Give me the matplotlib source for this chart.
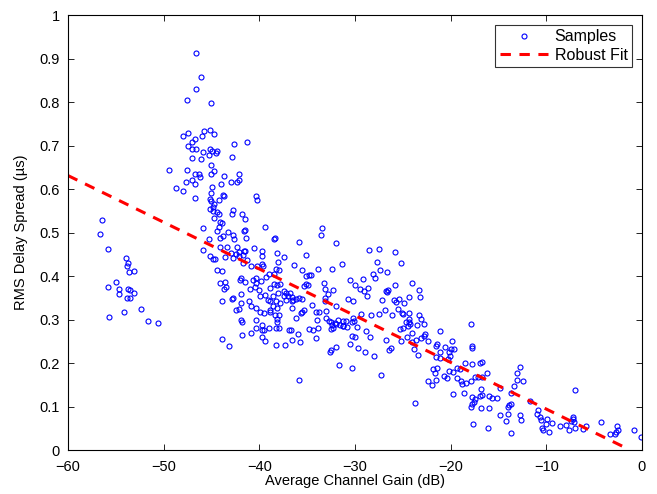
import matplotlib
matplotlib.use("Agg")
import matplotlib.pyplot as plt

# --- data ----------------------------------------------------------------
gain_db = [
    -47.6, -48.0, -47.5, -47.5, -49.4, -47.6, -47.7, -48.7, -48.0,
    -56.4, -56.7, -55.8, -53.9, -53.7, -53.8, -53.1, -53.6, -55.0, -55.8,
    -54.7, -53.7, -53.5, -53.1, -54.7, -53.8, -53.5, -52.4, -54.1, -55.7,
    -51.6, -50.6,
    -46.6, -46.1, -46.6, -45.0, -45.8, -45.2, -44.7, -46.0, -46.7, -47.0,
    -42.6, -41.3, -47.0, -46.6, -45.9, -45.2, -44.9, -44.4, -44.5, -45.3,
    -42.9, -47.0, -46.1, -45.1, -44.7, -46.7, -46.3, -46.2, -45.1, -43.7,
    -42.1, -47.0, -46.7, -44.9, -44.0, -43.0, -42.3, -42.1, -45.1, -43.8,
    -43.7, -40.3, -40.2, -46.7, -45.2, -45.1, -44.2, -44.7, -44.8, -45.2,
    -44.8, -44.4, -44.2, -42.7, -42.9, -41.8, -41.5, -44.7, -44.1, -43.9,
    -45.9, -44.2, -44.4, -43.3, -39.4, -41.5, -41.6, -42.7, -42.6, -41.4,
    -43.8, -44.1, -45.3, -38.4, -38.5, -44.1, -43.4, -42.3, -41.6, -40.6,
    -39.7, -45.9,
    -45.2, -44.8, -44.6, -43.6, -43.0, -42.7, -42.4, -42.1, -42.1, -41.7,
    -41.5, -41.3, -40.9, -39.7, -38.1, -37.4, -41.7, -40.2, -39.7, -39.6,
    -38.0, -38.3, -37.9, -38.5, -39.0, -39.3, -44.4, -43.9, -41.9, -42.0,
    -41.5, -40.7, -40.3, -39.8, -40.3, -43.6, -44.1, -43.5, -43.7, -41.0,
    -40.5, -40.0, -38.9, -38.5, -38.1, -37.8, -37.4, -37.2, -37.0, -38.0,
    -38.6, -39.4, -39.9, -41.9, -42.8, -42.9, -43.9, -41.9, -41.1, -39.1,
    -38.9, -38.3, -37.4, -37.2, -40.9, -38.6, -37.8, -38.1, -40.3, -39.9,
    -39.5, -38.9, -38.9, -42.1, -42.4, -38.4, -37.9, -38.1, -38.2, -40.3,
    -41.9, -41.8, -39.7, -39.7, -39.5, -39.0, -40.3, -40.9, -41.8, -38.3,
    -37.9, -36.9, -39.7, -39.4, -43.9, -43.2, -38.3, -37.3,
    -33.4, -33.6, -35.8, -32.0, -27.5, -28.5, -35.1,
    -36.4, -35.5, -33.9, -32.4, -31.4, -27.7, -27.4, -26.6, -28.1, -27.9,
    -29.2, -30.5, -30.0, -29.5, -29.1, -28.6, -26.8, -26.5, -26.7, -28.7,
    -27.2, -33.2, -33.1, -32.3, -32.8, -35.1, -34.8, -34.6, -35.1, -34.9,
    -35.3, -36.8, -36.6, -36.5, -36.2, -35.8, -35.5, -36.6, -34.5, -33.1,
    -33.1, -30.7, -30.2, -32.0, -36.6, -35.3, -35.5, -35.6, -34.1, -33.8,
    -33.0, -36.2, -34.0, -33.0, -32.7, -32.5, -32.1, -31.8, -31.2, -30.9,
    -30.2, -30.1, -30.3, -29.4, -28.3, -27.5, -26.9, -32.4, -32.0, -31.6,
    -31.3, -31.2, -30.8, -29.8, -32.3, -32.5, -34.8, -34.4, -33.9, -36.7,
    -36.0, -28.8, -30.3, -30.0, -28.4, -34.1, -36.6, -35.7, -30.5, -26.8,
    -32.0, -32.5, -32.6, -29.7, -29.0, -28.0, -26.4, -31.7, -30.3, -27.3,
    -35.9,
    -25.8, -25.2, -25.8, -24.0, -23.3, -23.2, -24.4, -25.9, -25.4, -25.7,
    -24.9, -25.5, -25.1, -25.0, -24.4, -26.1, -23.3, -23.1, -24.3, -24.7,
    -24.4, -24.2, -24.5, -23.5, -22.8, -17.9, -25.0, -25.3, -24.0, -22.7,
    -22.8, -21.1, -24.6, -23.1, -23.6, -24.0, -22.4, -19.9, -25.2, -21.4,
    -21.5, -20.6, -17.8, -17.8, -23.8, -20.0, -19.6, -26.2,
    -23.4, -21.1, -20.2, -21.5, -21.1, -20.1, -20.3, -18.5, -17.8, -16.9,
    -16.7, -21.8, -21.4, -21.6, -20.2, -19.8, -19.3, -19.0, -16.2, -20.7,
    -20.4, -19.3, -18.9, -18.8, -18.4, -17.9, -17.5, -17.1, -16.7, -22.4,
    -21.5, -21.9, -16.8, -19.7, -18.6, -17.8, -16.9, -16.7, -16.0, -17.5,
    -17.6, -17.8, -17.9, -16.8, -16.0, -23.7, -17.7, -16.1,
    -12.7, -13.1, -13.1, -12.4, -13.4, -14.8, -15.7, -15.1, -13.7, -7.0,
    -13.9, -13.7, -14.0, -11.7, -10.9, -11.0, -14.8, -14.0, -12.7, -12.6,
    -14.2, -10.7, -10.5, -9.9, -10.0, -9.4, -10.4, -10.3, -9.7, -13.7,
    -8.6, -7.9, -7.6, -7.2, -7.2, -7.0, -6.2, -5.8, -7.1, -7.4,
    -4.3, -3.3, -2.8, -2.7, -2.5, -2.6, -0.8, -0.1,
]

delay_us = [
    0.804, 0.722, 0.729, 0.699, 0.644, 0.644, 0.617, 0.602, 0.595,
    0.530, 0.496, 0.463, 0.441, 0.429, 0.424, 0.412, 0.410, 0.387, 0.374,
    0.370, 0.370, 0.368, 0.362, 0.358, 0.350, 0.349, 0.324, 0.317, 0.306,
    0.296, 0.292,
    0.912, 0.857, 0.830, 0.798, 0.734, 0.735, 0.726, 0.723, 0.715, 0.709,
    0.704, 0.708, 0.692, 0.691, 0.685, 0.692, 0.688, 0.687, 0.682, 0.678,
    0.674, 0.671, 0.669, 0.656, 0.642, 0.634, 0.634, 0.628, 0.634, 0.631,
    0.634, 0.621, 0.611, 0.605, 0.611, 0.617, 0.617, 0.621, 0.592, 0.586,
    0.585, 0.583, 0.574, 0.580, 0.576, 0.572, 0.575, 0.566, 0.559, 0.555,
    0.549, 0.548, 0.542, 0.552, 0.542, 0.542, 0.531, 0.533, 0.524, 0.521,
    0.511, 0.512, 0.504, 0.502, 0.513, 0.506, 0.503, 0.495, 0.485, 0.488,
    0.492, 0.488, 0.485, 0.488, 0.486, 0.467, 0.467, 0.467, 0.458, 0.464,
    0.458, 0.460,
    0.445, 0.440, 0.439, 0.444, 0.454, 0.442, 0.450, 0.445, 0.456, 0.448,
    0.457, 0.437, 0.424, 0.446, 0.454, 0.443, 0.431, 0.424, 0.428, 0.422,
    0.432, 0.416, 0.414, 0.405, 0.404, 0.398, 0.414, 0.411, 0.396, 0.391,
    0.387, 0.391, 0.395, 0.388, 0.385, 0.386, 0.383, 0.374, 0.371, 0.371,
    0.375, 0.367, 0.372, 0.381, 0.379, 0.381, 0.366, 0.360, 0.355, 0.360,
    0.354, 0.356, 0.354, 0.359, 0.349, 0.347, 0.343, 0.339, 0.343, 0.345,
    0.342, 0.343, 0.355, 0.346, 0.330, 0.331, 0.337, 0.326, 0.326, 0.317,
    0.315, 0.321, 0.317, 0.324, 0.323, 0.311, 0.310, 0.302, 0.294, 0.300,
    0.299, 0.294, 0.288, 0.277, 0.277, 0.280, 0.280, 0.270, 0.265, 0.280,
    0.280, 0.277, 0.260, 0.251, 0.256, 0.240, 0.242, 0.242,
    0.511, 0.495, 0.479, 0.477, 0.463, 0.461, 0.448,
    0.425, 0.414, 0.416, 0.416, 0.427, 0.432, 0.414, 0.409, 0.404, 0.395,
    0.394, 0.391, 0.380, 0.370, 0.366, 0.373, 0.366, 0.369, 0.363, 0.353,
    0.344, 0.385, 0.370, 0.369, 0.359, 0.401, 0.403, 0.403, 0.381, 0.380,
    0.377, 0.362, 0.352, 0.345, 0.348, 0.349, 0.347, 0.343, 0.334, 0.350,
    0.342, 0.347, 0.343, 0.330, 0.327, 0.322, 0.317, 0.314, 0.317, 0.317,
    0.320, 0.303, 0.299, 0.303, 0.297, 0.294, 0.293, 0.300, 0.297, 0.297,
    0.303, 0.297, 0.294, 0.312, 0.311, 0.313, 0.323, 0.287, 0.290, 0.287,
    0.286, 0.285, 0.283, 0.284, 0.281, 0.278, 0.279, 0.276, 0.280, 0.277,
    0.267, 0.274, 0.263, 0.259, 0.260, 0.257, 0.252, 0.248, 0.244, 0.254,
    0.236, 0.231, 0.226, 0.234, 0.226, 0.217, 0.231, 0.196, 0.189, 0.172,
    0.160,
    0.455, 0.430, 0.380, 0.383, 0.369, 0.352, 0.352, 0.346, 0.347, 0.340,
    0.339, 0.325, 0.316, 0.313, 0.316, 0.310, 0.310, 0.302, 0.302, 0.294,
    0.294, 0.289, 0.286, 0.287, 0.290, 0.290, 0.280, 0.278, 0.270, 0.267,
    0.263, 0.273, 0.260, 0.258, 0.254, 0.249, 0.250, 0.250, 0.251, 0.244,
    0.239, 0.237, 0.240, 0.235, 0.233, 0.233, 0.233, 0.234,
    0.218, 0.225, 0.225, 0.214, 0.211, 0.216, 0.209, 0.199, 0.198, 0.199,
    0.203, 0.186, 0.189, 0.177, 0.182, 0.180, 0.188, 0.186, 0.178, 0.170,
    0.166, 0.165, 0.159, 0.151, 0.153, 0.159, 0.169, 0.167, 0.168, 0.159,
    0.161, 0.149, 0.140, 0.129, 0.130, 0.123, 0.125, 0.126, 0.125, 0.117,
    0.110, 0.106, 0.098, 0.097, 0.096, 0.107, 0.060, 0.051,
    0.191, 0.177, 0.162, 0.159, 0.148, 0.142, 0.120, 0.120, 0.132, 0.137,
    0.103, 0.106, 0.100, 0.113, 0.092, 0.083, 0.081, 0.082, 0.080, 0.070,
    0.067, 0.075, 0.069, 0.071, 0.061, 0.062, 0.051, 0.046, 0.042, 0.040,
    0.055, 0.057, 0.047, 0.075, 0.071, 0.050, 0.048, 0.055, 0.064, 0.067,
    0.064, 0.037, 0.037, 0.042, 0.047, 0.055, 0.046, 0.029,
]

# robust fit line end points
fit_x = [-60.0, -1.5]
fit_y = [0.631, 0.003]

x_ticks = [-60, -50, -40, -30, -20, -10, 0]
y_ticks = [0, 0.1, 0.2, 0.3, 0.4, 0.5, 0.6, 0.7, 0.8, 0.9, 1]
y_tick_labels = ["0", "0.1", "0.2", "0.3", "0.4", "0.5", "0.6", "0.7", "0.8", "0.9", "1"]

plt.rcParams["font.family"] = ["Liberation Sans", "DejaVu Sans"]

fig = plt.figure(figsize=(6.57, 4.94), dpi=100, facecolor="white")
ax = fig.add_axes([0.1035, 0.089, 0.8735, 0.8805])

ax.plot(gain_db, delay_us, linestyle="none", marker="o", markersize=3.6,
        markerfacecolor="none", markeredgecolor="#0000FF", markeredgewidth=0.8,
        label="Samples")
ax.plot(fit_x, fit_y, color="#FF0000", linewidth=2.2, linestyle=(0, (3.4, 2.8)),
        label="Robust Fit")

ax.set_xlim(-60, 0)
ax.set_ylim(0, 1)
ax.set_xticks(x_ticks)
ax.set_yticks(y_ticks)
ax.set_yticklabels(y_tick_labels)
ax.tick_params(direction="in", top=True, right=True, length=4, width=0.6,
               labelsize=10.5, colors="black")
ax.tick_params(axis="x", pad=7)
ax.tick_params(axis="y", pad=6)
for s in ax.spines.values():
    s.set_linewidth(0.8)
    s.set_color("black")

ax.set_xlabel("Average Channel Gain (dB)", fontsize=10.5, labelpad=0)
ax.set_ylabel("RMS Delay Spread (\u00b5s)", fontsize=10.5, labelpad=8)

leg = ax.legend(loc="upper right", fontsize=11.5, frameon=True, fancybox=False,
                borderaxespad=0.6, handlelength=3.0, numpoints=1,
                borderpad=0.3, labelspacing=0.2, handletextpad=0.4)
leg.get_frame().set_edgecolor("black")
leg.get_frame().set_linewidth(0.8)

fig.savefig("out.png", dpi=100, facecolor="white")
